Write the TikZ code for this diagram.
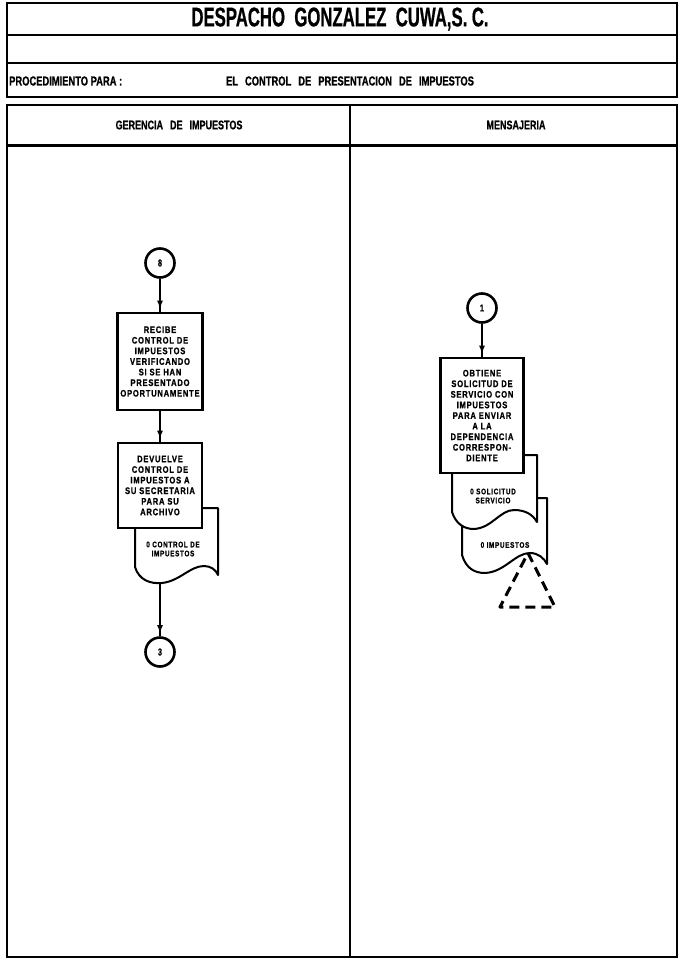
\documentclass[tikz,border=0pt]{standalone}
\usepackage{fontspec}
\setmainfont{Liberation Sans}
\newfontfamily\condfont[FakeStretch=0.72,FakeBold=0.8]{Liberation Sans}
\newfontfamily\titlefont[FakeStretch=0.62,FakeBold=0.6]{Liberation Sans}
\newfontfamily\tinyfont[FakeStretch=0.8,LetterSpace=8,FakeBold=0.8]{Liberation Sans}
\usetikzlibrary{arrows.meta,decorations.markings}
\begin{document}
\begin{tikzpicture}[x=1pt,y=-1pt,
  frame/.style={line width=2pt},
  thickframe/.style={line width=3pt},
  procbox/.style={draw, fill=white, line width=2.6pt, align=center, inner sep=1pt,
    font=\tinyfont\bfseries\fontsize{9.5}{10.6}\selectfont},
  docshape/.style={draw, fill=white, line width=2pt, line join=round},
  doctext/.style={align=center, inner sep=0pt, font=\tinyfont\bfseries\fontsize{8}{9}\selectfont},
  circ/.style={draw, circle, line width=2.6pt, minimum size=29pt, inner sep=0pt,
    font=\condfont\bfseries\fontsize{10}{10}\selectfont},
  conn/.style={line width=1.4pt, postaction={decorate},
    decoration={markings, mark=at position -3pt with {\arrow{Latex[length=8pt,width=6pt]}}}},
  archive/.style={line width=3pt, dash pattern=on 10pt off 6pt, line join=round},
  hdr/.style={inner sep=0pt, font=\condfont\bfseries\fontsize{13}{13}\selectfont},
]
\useasboundingbox (0,0) rectangle (681,961);
\fill[white] (0,0) rectangle (681,961);

% header box
\draw[frame] (7,3) rectangle (677,97);
\draw[frame] (7,35) -- (677,35);
\draw[frame] (7,63) -- (677,63);
\node[inner sep=0pt, font=\titlefont\bfseries\fontsize{27}{27}\selectfont] (title) at (340,19)
  {DESPACHO\ \ GONZALEZ\ \ CUWA,S.\,C.};
\node[hdr, anchor=west] (proc) at (9,81) {PROCEDIMIENTO PARA :};
\node[hdr] (proctitle) at (350,81)
  {EL\hspace{7pt}CONTROL\hspace{7pt}DE\hspace{7pt}PRESENTACION\hspace{7pt}DE\hspace{7pt}IMPUESTOS};

% swimlanes
\draw[frame] (7,105) rectangle (677,957);
\draw[thickframe] (7,145) -- (677,145);
\draw[frame] (350,105) -- (350,957);
\node[hdr, font=\condfont\bfseries\fontsize{12.5}{12.5}\selectfont] (lane1) at (179,125)
  {GERENCIA\hspace{7pt}DE\hspace{7pt}IMPUESTOS};
\node[hdr, font=\condfont\bfseries\fontsize{12.5}{12.5}\selectfont] (lane2) at (516,125)
  {MENSAJERIA};

% left lane
\node[circ] (c8) at (160,263) {8};
\node[procbox, minimum width=85pt, minimum height=97pt] (b1) at (160,361.5)
  {RECIBE\\CONTROL DE\\IMPUESTOS\\VERIFICANDO\\SI SE HAN\\PRESENTADO\\OPORTUNAMENTE};
\draw[docshape] (135,508) -- (135,567) .. controls (139,580) and (150,584) .. (162,583)
  .. controls (180,581) and (190,566) .. (204,566)
  .. controls (211,566) and (216,570) .. (218,575) -- (218,508) -- cycle;
\node[procbox, minimum width=84pt, minimum height=85pt] (b2) at (160,485.5)
  {DEVUELVE\\CONTROL DE\\IMPUESTOS A\\SU SECRETARIA\\PARA SU\\ARCHIVO};
\node[doctext] (d1t) at (173,549) {0 CONTROL DE\\IMPUESTOS};
\coordinate (d1b) at (160,583);
\node[circ] (c3) at (160,652) {3};
\draw[conn] (c8) -- (b1);
\draw[conn] (b1) -- (b2);
\draw[conn] (d1b) -- (c3);

% right lane
\node[circ] (c1) at (482,308) {1};
\draw[docshape] (462,498) -- (462,555) .. controls (466,568) and (474,573) .. (485,573)
  .. controls (505,572) and (515,553) .. (530,553)
  .. controls (538,553) and (544,558) .. (547,564) -- (547,498) -- cycle;
\draw[docshape] (452,455) -- (452,512) .. controls (456,524) and (464,529) .. (474,529)
  .. controls (492,528) and (500,510) .. (514,510)
  .. controls (526,510) and (533,515) .. (537,522) -- (537,455) -- cycle;
\node[procbox, minimum width=83pt, minimum height=115pt] (b3) at (482,415.5)
  {OBTIENE\\SOLICITUD DE\\SERVICIO CON\\IMPUESTOS\\PARA ENVIAR\\A LA\\DEPENDENCIA\\CORRESPON-\\DIENTE};
\node[doctext] (d2t) at (493,496) {0 SOLICITUD\\SERVICIO};
\node[doctext] (d3t) at (505,545) {0 IMPUESTOS};
\draw[conn] (c1) -- (b3);
\draw[archive] (528,553) -- (555,607) -- (500,607) -- cycle;
\end{tikzpicture}
\end{document}
